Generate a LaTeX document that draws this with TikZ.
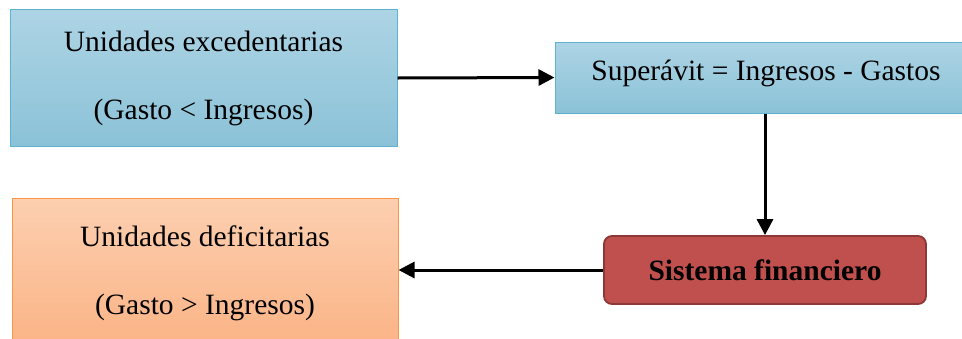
\documentclass[tikz,border=0pt]{standalone}
\usepackage{fontspec}
\setmainfont{Liberation Serif}
\usetikzlibrary{arrows.meta}
\definecolor{blueTop}{HTML}{ADD4E5}
\definecolor{blueBot}{HTML}{8BC2D7}
\definecolor{blueLine}{HTML}{5DB3CF}
\definecolor{orangeTop}{HTML}{FCCFB0}
\definecolor{orangeBot}{HTML}{FBB385}
\definecolor{orangeLine}{HTML}{F79646}
\definecolor{redFill}{HTML}{C0504D}
\definecolor{redLine}{HTML}{8C3836}
\tikzset{
  bluebox/.style={draw=blueLine, line width=1pt, top color=blueTop, bottom color=blueBot,
    rectangle, align=center, inner sep=0pt},
  orangebox/.style={draw=orangeLine, line width=1pt, top color=orangeTop, bottom color=orangeBot,
    rectangle, align=center, inner sep=0pt},
  redbox/.style={draw=redLine, line width=1.8pt, fill=redFill, rectangle, rounded corners=8pt,
    align=center, inner sep=0pt, font=\fontsize{29.5}{35}\selectfont\bfseries},
  flow/.style={line width=3pt, -{Triangle[length=16pt,width=16pt]}},
  txt/.style={font=\fontsize{29.5}{68}\selectfont}
}
\begin{document}
\begin{tikzpicture}[x=1pt,y=-1pt]
  \path[use as bounding box] (0,0) rectangle (962,338);
  \clip (0,0) rectangle (962,338);

  % upper row: surplus units and their surplus
  \node[bluebox, txt, minimum width=387pt, minimum height=137pt] (exc) at (203.5,78)
    {Unidades excedentarias\\(Gasto < Ingresos)};
  \node[bluebox, txt, minimum width=422pt, minimum height=71pt, text depth=15pt] (sup) at (766,77.5)
    {Superávit = Ingresos - Gastos};

  % lower row: deficit units and the financial system
  \node[orangebox, txt, minimum width=386pt, minimum height=150pt] (def) at (205,273)
    {Unidades deficitarias\\(Gasto > Ingresos)};
  \node[redbox, minimum width=322pt, minimum height=68pt] (sis) at (765,270)
    {Sistema financiero};

  \draw[flow] (exc.east) -- (sup.west);
  \draw[flow] (sup.south -| sis.north) -- (sis.north);
  \draw[flow] (sis.west) -- (sis.west -| def.east);
\end{tikzpicture}
\end{document}
